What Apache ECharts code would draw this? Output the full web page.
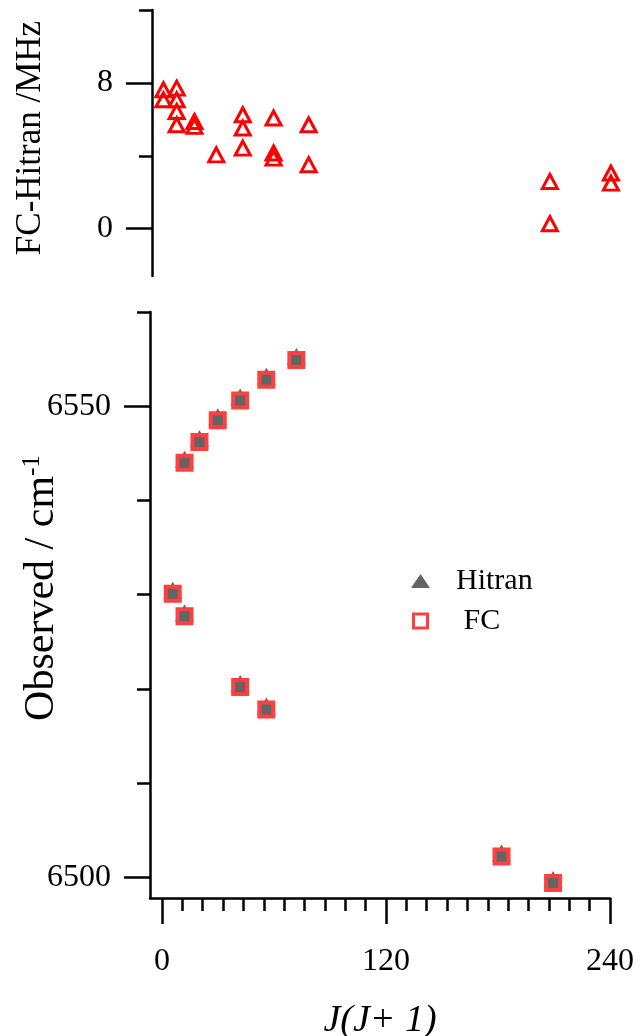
<!DOCTYPE html>
<html>
<head>
<meta charset="utf-8">
<script src="https://cdn.jsdelivr.net/npm/echarts@6/dist/echarts.min.js"></script>
<style>
html, body { margin: 0; padding: 0; background: #fff; }
#main { width: 640px; height: 1036px; }
</style>
</head>
<body>
<div id="main"></div>
<script>
// residuals FC - Hitran (MHz) against J(J+1)
var resX = [0.8, 0.8, 7.9, 7.9, 7.9, 7.9, 17.4, 17.4, 29.1, 43.3, 43.3, 43.3, 59.8, 59.8, 59.8, 78.6, 78.6, 207.8, 207.8, 240.5, 240.5];
var resY = [7.62, 7.07, 7.71, 7.07, 6.43, 5.70, 5.88, 5.61, 4.05, 6.25, 5.52, 4.42, 6.07, 4.15, 3.87, 5.70, 3.51, 2.59, 0.27, 3.05, 2.50];

// observed line positions (cm-1)
var obsX = [5.8, 12.1, 12.1, 20.1, 29.9, 41.9, 41.9, 55.9, 55.9, 72.0, 181.9, 209.5];
var hitranObs = [6530.1, 6544.0, 6527.7, 6546.2, 6548.5, 6550.6, 6520.2, 6552.8, 6517.8, 6554.9, 6502.2, 6499.4];
var fcObs = [6530.1, 6544.0, 6527.7, 6546.2, 6548.5, 6550.6, 6520.2, 6552.8, 6517.8, 6554.9, 6502.2, 6499.4];

// ticks
var xMajor = [0, 120, 240];
var xMinorStep = 120 / 11;
var resMajor = [0, 8];
var resMinor = [4, 12];
var obsMajor = [6500, 6550];
var obsMinor = [6510, 6520, 6530, 6540, 6560];

var xMinor = [];
for (var k = 1; k < 22; k++) {
	if (k !== 11) xMinor.push(k * xMinorStep);
}

function pairs(xs, ys) {
	return xs.map(function (x, i) { return [x, ys[i]]; });
}

function plain(v) { return String(v); }

var FONT = 'Liberation Serif';
var myChart = echarts.init(document.getElementById('main'));

function yAx(grid, min, max, ticks, len, labels, extra) {
	var a = {
		type: 'value',
		gridIndex: grid,
		position: 'left',
		min: min,
		max: max,
		nameMoveOverlap: false,
		splitLine: { show: false },
		axisLine: { show: labels, onZero: false, lineStyle: { color: '#000', width: 2.5 } },
		axisTick: { show: true, customValues: ticks, length: len, lineStyle: { color: '#000', width: 2.5 } },
		axisLabel: { show: labels, customValues: ticks, formatter: plain, margin: 39, color: '#000', fontFamily: FONT, fontSize: 32 }
	};
	for (var key in extra) a[key] = extra[key];
	return a;
}

option = {
	animation: false,
	backgroundColor: '#fff',
	grid: [
		{ left: 150, width: 460, top: 10, height: 266, outerBoundsMode: 'none', containLabel: false },
		{ left: 150, width: 460, top: 312, height: 586, outerBoundsMode: 'none', containLabel: false }
	],
	legend: {
		orient: 'vertical',
		left: 406,
		top: 561,
		itemWidth: 19,
		itemHeight: 14,
		itemGap: 10,
		selectedMode: false,
		formatter: function (name) { return name === 'FC' ? ' FC' : name; },
		textStyle: { fontFamily: FONT, fontSize: 30, lineHeight: 30, color: '#000', padding: [0, 0, 0, 21] },
		data: [
			{ name: 'Hitran', icon: 'triangle' },
			{ name: 'FC', icon: 'path://M0,0H14V14H0Z', itemStyle: { color: '#fff', borderColor: '#ff4040', borderWidth: 3 } }
		]
	},
	xAxis: [
		{ type: 'value', gridIndex: 0, min: -6.4, max: 240, show: false },
		{
			type: 'value', gridIndex: 1, position: 'bottom', min: -6.4, max: 240,
			name: 'J(J+ 1)', nameLocation: 'middle', nameGap: 104, nameMoveOverlap: false,
			nameTextStyle: { fontFamily: FONT, fontSize: 38, fontStyle: 'italic', color: '#000' },
			splitLine: { show: false },
			axisLine: { onZero: false, lineStyle: { color: '#000', width: 2.5 } },
			axisTick: { customValues: xMajor, length: 26, lineStyle: { color: '#000', width: 2.5 } },
			axisLabel: { customValues: xMajor, formatter: plain, margin: 48, color: '#000', fontFamily: FONT, fontSize: 32 }
		},
		{
			type: 'value', gridIndex: 1, position: 'bottom', min: -6.4, max: 240,
			splitLine: { show: false },
			axisLine: { show: false, onZero: false },
			axisTick: { customValues: xMinor, length: 13, lineStyle: { color: '#000', width: 2.5 } },
			axisLabel: { show: false }
		}
	],
	yAxis: [
		yAx(0, -2.6, 12, resMajor, 26, true, {
			offset: -2,
			name: 'FC-Hitran /MHz', nameLocation: 'middle', nameGap: 104,
			nameTextStyle: { fontFamily: FONT, fontSize: 35, color: '#000', padding: [0, 0, 0, 10] }
		}),
		yAx(0, -2.6, 12, resMinor, 13, false, { offset: -2 }),
		yAx(1, 6497.8, 6560, obsMajor, 26, true, {
			name: 'Observed / cm{sup|-1}', nameLocation: 'middle', nameGap: 86,
			nameTextStyle: {
				fontFamily: FONT, fontSize: 42, color: '#000', padding: [0, 0, 0, 34],
				rich: { sup: { fontFamily: FONT, fontSize: 25, color: '#000', verticalAlign: 'top', padding: [0, 0, 19, 0] } }
			}
		}),
		yAx(1, 6497.8, 6560, obsMinor, 13, false, {})
	],
	series: [
		{
			name: 'FC-Hitran',
			type: 'scatter',
			xAxisIndex: 0,
			yAxisIndex: 0,
			clip: false,
			symbol: 'triangle',
			symbolSize: [15, 14],
			itemStyle: { color: 'rgba(0,0,0,0)', borderColor: '#ff0000', borderWidth: 3, opacity: 1 },
			data: pairs(resX, resY)
		},
		{
			name: 'Hitran',
			type: 'scatter',
			xAxisIndex: 1,
			yAxisIndex: 2,
			symbol: 'triangle',
			symbolSize: [19, 17],
			symbolOffset: [0, -3.5],
			itemStyle: { color: '#646464', opacity: 1 },
			data: pairs(obsX, hitranObs)
		},
		{
			name: 'FC',
			type: 'scatter',
			xAxisIndex: 1,
			yAxisIndex: 2,
			symbol: 'rect',
			symbolSize: 14,
			itemStyle: { color: '#646464', borderColor: '#ff4040', borderWidth: 4, opacity: 1 },
			data: pairs(obsX, fcObs)
		}
	]
};

myChart.setOption(option);
</script>
</body>
</html>
